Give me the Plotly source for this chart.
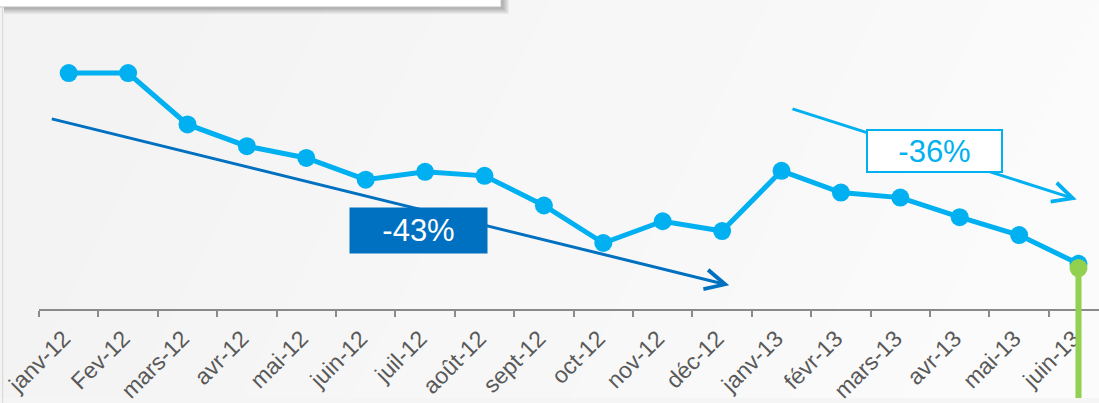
import plotly.graph_objects as go

# ---- data ----
months = ["janv-12", "Fev-12", "mars-12", "avr-12", "mai-12", "juin-12",
          "juil-12", "août-12", "sept-12", "oct-12", "nov-12", "déc-12",
          "janv-13", "févr-13", "mars-13", "avr-13", "mai-13", "juin-13"]
values = [100, 100, 78.5, 69.4, 64.5, 55.4, 58.7, 57.0, 44.6, 28.9, 38.0, 33.9,
          59.1, 50.0, 47.9, 39.7, 32.2, 20.2]
current_month = ["juin-13"]
current_value = [18.4]
trend_labels = ["-43%", "-36%"]

# ---- styling ----
LIGHT = "#00b0f0"
DARK = "#0070c0"
GREEN = "#92d050"
FONT = "Liberation Sans, Arial, sans-serif"

W_PX, H_PX = 1099, 403
L = 39
PW = W_PX - L


def xp(px):
    return (px - L) / PW


def yp(py):
    return (H_PX - py) / H_PX


fig = go.Figure()

fig.add_trace(go.Scatter(
    x=months, y=values, mode="lines+markers",
    line=dict(color=LIGHT, width=5),
    marker=dict(color=LIGHT, size=18),
    cliponaxis=False, hoverinfo="skip", showlegend=False))

fig.add_trace(go.Scatter(
    x=current_month, y=current_value, mode="markers",
    marker=dict(color=GREEN, size=18),
    cliponaxis=False, hoverinfo="skip", showlegend=False))

shapes = []

# background gradient bands (diagonal)
def hexmix(t):
    a, b = 0xf1, 0xfd
    v = int(round(a + (b - a) * t))
    return "#%02x%02x%02x" % (v, v, v)

N = 16
starts = [-420 + k * 110 for k in range(N + 1)]
for k in range(N):
    s0, s1 = starts[k], starts[k + 1]
    path = "M {a},{b} L {c},{b} L {d},{e} L {f},{e} Z".format(
        a=xp(s0), b=yp(H_PX), c=xp(s1), d=xp(s1 + 200), e=yp(0), f=xp(s0 + 200))
    shapes.append(dict(type="path", xref="paper", yref="paper", path=path,
                       fillcolor=hexmix(k / (N - 1)), line=dict(width=0), layer="below"))

# left border line
shapes.append(dict(type="line", xref="paper", yref="paper",
                   x0=xp(2.7), x1=xp(2.7), y0=yp(7), y1=yp(H_PX + 5),
                   line=dict(color="#d6d6d6", width=1), layer="below"))

# top white box with shadow
for s in range(1, 9):
    shapes.append(dict(type="rect", xref="paper", yref="paper",
                       x0=xp(4), x1=xp(501 + s), y0=yp(7 + s * 0.9), y1=yp(-5),
                       fillcolor="rgba(0,0,0,0.045)", line=dict(width=0), layer="above"))
shapes.append(dict(type="rect", xref="paper", yref="paper",
                   x0=xp(-2), x1=xp(501), y0=yp(7), y1=yp(-5),
                   fillcolor="white", line=dict(color="#c8c8c8", width=1), layer="above"))

# green vertical marker line for current month
shapes.append(dict(type="line", xref="x", yref="y",
                   x0=len(months) - 1, x1=len(months) - 1,
                   y0=current_value[0], y1=-60,
                   line=dict(color=GREEN, width=6), layer="above"))

annotations = [
    # dark trend arrow
    dict(x=11.12, y=11.2, ax=-0.31, ay=81.0, xref="x", yref="y", axref="x", ayref="y",
         text="", showarrow=True, arrowhead=5, arrowwidth=3, arrowsize=1.3,
         arrowcolor=DARK, standoff=0, startstandoff=0),
    dict(x=5.89, y=34.0, xref="x", yref="y", text=trend_labels[0], showarrow=False,
         font=dict(family=FONT, size=31, color="white"), bgcolor=DARK,
         width=137, height=45, borderpad=0, align="center", valign="middle"),
    # light trend arrow
    dict(x=16.97, y=47.1, ax=12.16, ay=85.2, xref="x", yref="y", axref="x", ayref="y",
         text="", showarrow=True, arrowhead=5, arrowwidth=3, arrowsize=1.3,
         arrowcolor=LIGHT, standoff=0, startstandoff=0),
    dict(x=14.57, y=67.2, xref="x", yref="y", text=trend_labels[1], showarrow=False,
         font=dict(family=FONT, size=31, color=LIGHT), bgcolor="white",
         bordercolor=LIGHT, borderwidth=2,
         width=133, height=40, borderpad=0, align="center", valign="middle"),
]

Y_SHIFT = 2 / 2.42
fig.update_layout(
    width=W_PX, height=H_PX,
    margin=dict(l=L, r=0, t=0, b=0, pad=0),
    paper_bgcolor="#f5f5f5", plot_bgcolor="rgba(0,0,0,0)",
    shapes=shapes, annotations=annotations,
    showlegend=False, hovermode=False,
    xaxis=dict(type="category", range=[-0.5, -0.5 + PW / 59.4],
               anchor="free", position=(H_PX - 314) / H_PX,
               tickson="boundaries", ticks="outside", ticklen=6, tickwidth=1.5,
               tickcolor="#8a8a8a", showline=True, linecolor="#8a8a8a", linewidth=1.5,
               tickangle=-45, tickfont=dict(family=FONT, size=23, color="#595959"),
               ticklabelstandoff=5, ticklabelshift=-5,
               showgrid=False, zeroline=False, fixedrange=True),
    yaxis=dict(range=[(314 - H_PX) / 2.42 + Y_SHIFT, 314 / 2.42 + Y_SHIFT], visible=False,
               showgrid=False, zeroline=False, fixedrange=True),
)

fig.write_html("out.html", config=dict(displayModeBar=False),
               post_script="document.body.style.margin='0';document.body.style.overflow='hidden';")
